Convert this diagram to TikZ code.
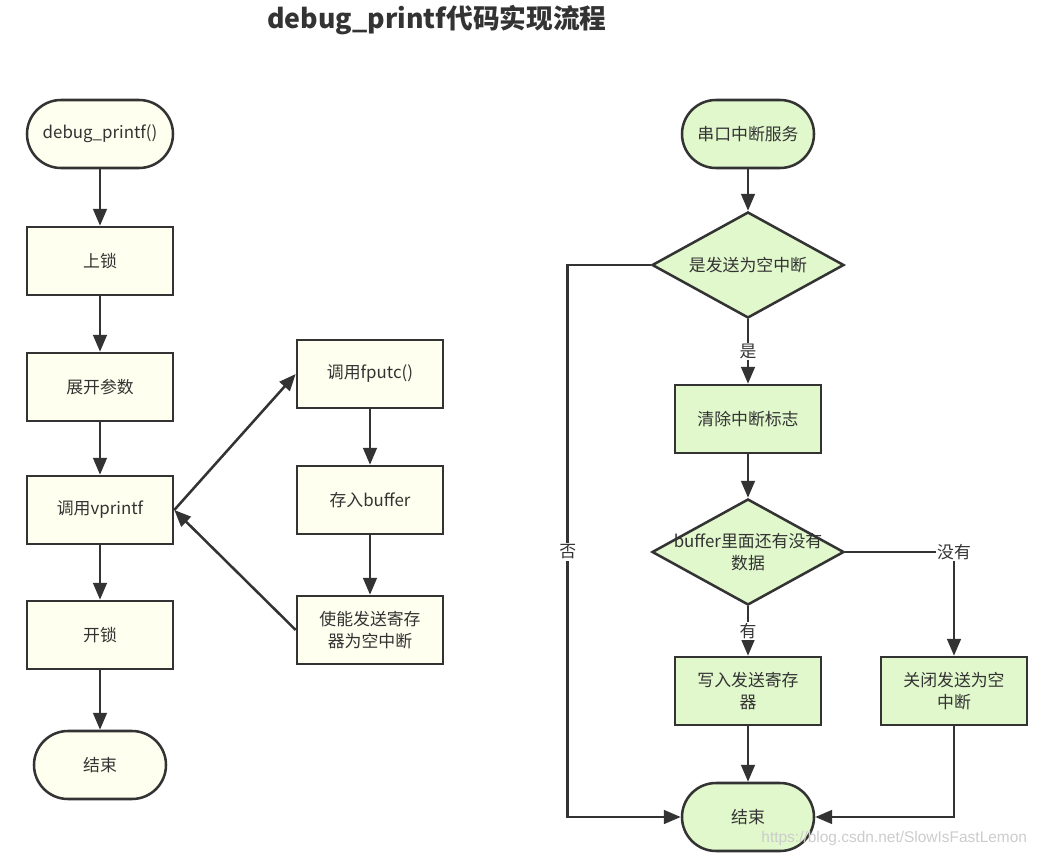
\documentclass[tikz,border=0pt]{standalone}
\usepackage{fontspec}
\setmainfont{Noto Sans CJK SC}
\newfontfamily\marque{Liberation Sans}
\usetikzlibrary{shapes.geometric,arrows.meta}

\definecolor{trait}{HTML}{333333}
\definecolor{creme}{HTML}{FFFFEF}
\definecolor{vert}{HTML}{E1F8CC}

\tikzstyle{bloc} = [rectangle, draw=trait, line width=1.8pt, fill=creme, text=trait, align=center, minimum width=3.65cm, minimum height=1.7cm, font=\fontsize{12}{16}\selectfont]
\tikzstyle{rond} = [bloc, rounded corners=0.85cm]
\tikzstyle{bloc2} = [bloc, fill=vert]
\tikzstyle{rond2} = [rond, fill=vert, minimum width=3.3cm]
\tikzstyle{choix} = [diamond, draw=trait, line width=1.8pt, fill=vert, minimum width=4.8cm, minimum height=2.65cm, inner sep=0pt]
\tikzstyle{texte} = [text=trait, align=center, font=\fontsize{12}{16}\selectfont]
\tikzstyle{fleche} = [draw=trait, line width=1.8pt, -{Triangle[length=4.2mm, width=3.4mm]}]
\tikzstyle{oui} = [fill=white, inner sep=1pt, text=trait, font=\fontsize{12}{14}\selectfont]

\begin{document}
\begin{tikzpicture}[scale=0.25]
    \useasboundingbox (0,0) rectangle (103.9,-85.8);

    % titre
    \node [text=trait, font=\fontsize{19}{22}\selectfont\bfseries] (titre) at (43.7,-2.0) {debug\_printf代码实现流程};

    %---------------------------------------------------------
    \node [rond] (d0) at (10,-13.4) {debug\_printf()};
    \node [bloc] (l1) at (10,-26.1) {上锁};
    \node [bloc] (l2) at (10,-38.7) {展开参数};
    \node [bloc] (l3) at (10,-51.0) {调用vprintf};
    \node [bloc] (l4) at (10,-63.5) {开锁};
    \node [rond, minimum width=3.3cm] (l5) at (10,-76.5) {结束};

    \node [bloc] (m1) at (37,-37.4) {调用fputc()};
    \node [bloc] (m2) at (37,-50.0) {存入buffer};
    \node [bloc] (m3) at (37,-63.0) {使能发送寄存\\器为空中断};

    %---------------------------------------------------------
    \node [rond2] (r0) at (74.8,-13.4) {串口中断服务};
    \node [choix] (c1) at (74.8,-26.5) {};
    \node [texte] (c1t) at (c1) {是发送为空中断};
    \node [bloc2] (r1) at (74.8,-41.9) {清除中断标志};
    \node [choix] (c2) at (74.8,-55.2) {};
    \node [texte] (c2t) at (c2) {buffer里面还有没有\\数据};
    \node [bloc2] (r2) at (74.8,-69.1) {写入发送寄存\\器};
    \node [bloc2] (r3) at (95.4,-69.1) {关闭发送为空\\中断};
    \node [rond2] (r5) at (74.8,-81.7) {结束};

    \node [text=gray!40, font=\marque\fontsize{11}{13}\selectfont, anchor=east] (wm) at (103.2,-83.8) {https://blog.csdn.net/SlowIsFastLemon};

    %---------------------------------------------------------
    \draw[fleche] (d0) -- (l1);
    \draw[fleche] (l1) -- (l2);
    \draw[fleche] (l2) -- (l3);
    \draw[fleche] (l3) -- (l4);
    \draw[fleche] (l4) -- (l5);
    \draw[fleche] (l3.east) -- (m1.west);
    \draw[fleche] (m1) -- (m2);
    \draw[fleche] (m2) -- (m3);
    \draw[fleche] (m3.west) -- (l3.east);

    \draw[fleche] (r0) -- (c1);
    \draw[fleche] (c1) -- node[oui] (e1) {是} (r1);
    \draw[fleche] (r1) -- (c2);
    \draw[fleche] (c2) -- node[oui] (e2) {有} (r2);
    \draw[fleche] (c2.east) -| node[oui] (e3) {没有} (r3.north);
    \draw[fleche] (r2) -- (r5);
    \draw[fleche] (r3.south) |- (r5.east);
    \draw[fleche] (c1.west) -- ++(-8.3,0) |- node[oui, pos=0.26] (e4) {否} (r5.west);

\end{tikzpicture}
\end{document}
